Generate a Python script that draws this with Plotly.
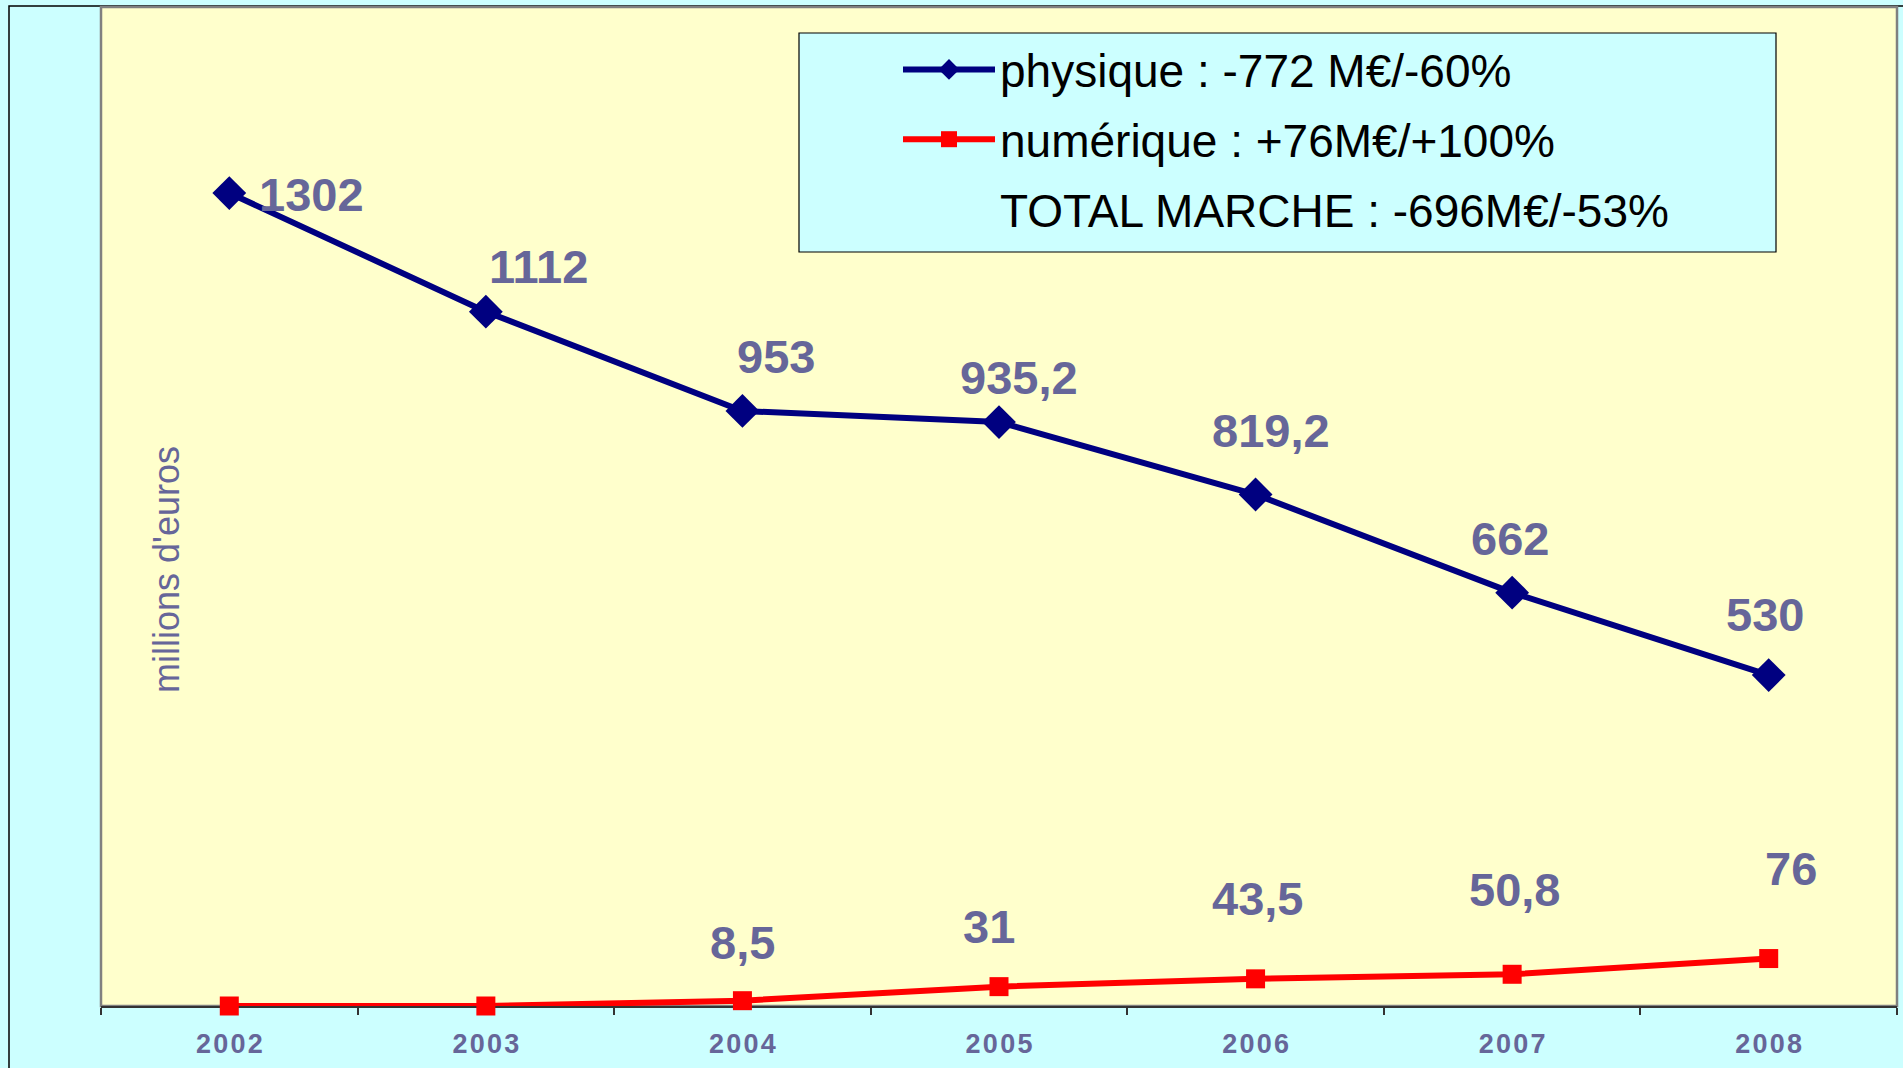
import plotly.graph_objects as go

# ---------------- data ----------------
years = ["2002", "2003", "2004", "2005", "2006", "2007", "2008"]
tick_labels = ["2\u200a0\u200a0\u200a2", "2\u200a0\u200a0\u200a3", "2\u200a0\u200a0\u200a4",
               "2\u200a0\u200a0\u200a5", "2\u200a0\u200a0\u200a6", "2\u200a0\u200a0\u200a7",
               "2\u200a0\u200a0\u200a8"]
physique = [1302, 1112, 953, 935.2, 819.2, 662, 530]
numerique = [0, 0, 8.5, 31, 43.5, 50.8, 76]
name_physique = "physique : -772 M€/-60%"
name_numerique = "numérique : +76M€/+100%"
name_total = "TOTAL MARCHE : -696M€/-53%"
y_title = "millions d'euros"

# label offsets (screen px) - style only
phys_dx = [82, 53, 34, 20, 15, -2, -4]
phys_dy = [-1, 45, 54, 45, 64, 54, 61]
num_dx = [0, 0, 0, -10, 2, 2, 22]
num_dy = [0, 0, 58, 60, 80, 85, 90]

# ---------------- style ----------------
NAVY = "#000080"
RED = "#FF0000"
LABEL = "#666699"
SANS = "Liberation Sans, Arial, sans-serif"

W, H = 1903, 1068
ML, MR, MT, MB = 101, 6, 7, 62
PW, PH = W - ML - MR, H - MT - MB


def px_x(p):
    return (p - ML) / PW


def px_y(p):
    return (H - MB - p) / PH


def fmt(v):
    return str(int(v)) if float(v).is_integer() else str(v).replace(".", ",")


fig = go.Figure()
fig.add_trace(go.Scatter(
    x=years, y=physique, name=name_physique, mode="lines+markers",
    legendgroup="a",
    line=dict(color=NAVY, width=6),
    marker=dict(symbol="diamond", size=26, color=NAVY),
    cliponaxis=False,
))
fig.add_trace(go.Scatter(
    x=years, y=numerique, name=name_numerique, mode="lines+markers",
    legendgroup="b",
    line=dict(color=RED, width=6),
    marker=dict(symbol="square", size=19, color=RED),
    cliponaxis=False,
))
fig.add_trace(go.Scatter(
    x=years, y=[None] * len(years), name=name_total, mode="lines",
    legendgroup="c",
    line=dict(color="rgba(0,0,0,0)", width=0), hoverinfo="skip",
))

label_font = dict(family=SANS, size=47, color=LABEL, weight="bold")
annotations = []
for i, v in enumerate(physique):
    annotations.append(dict(x=i, y=v, text=fmt(v), showarrow=False,
                            xanchor="center", yanchor="middle",
                            xshift=phys_dx[i], yshift=phys_dy[i], font=label_font))
for i, v in enumerate(numerique):
    if v > 0:
        annotations.append(dict(x=i, y=v, text=fmt(v), showarrow=False,
                                xanchor="center", yanchor="middle",
                                xshift=num_dx[i], yshift=num_dy[i], font=label_font))
annotations.append(dict(xref="paper", yref="paper", x=px_x(166), y=px_y(570),
                        xanchor="center", yanchor="middle",
                        text=y_title, textangle=-90, showarrow=False,
                        font=dict(family=SANS, size=36, color=LABEL)))

shapes = [
    # outer chart frame
    dict(type="rect", xref="paper", yref="paper", x0=px_x(9), x1=px_x(1960),
         y0=px_y(1120), y1=px_y(6), line=dict(color="black", width=1.5), layer="below"),
    # plot area frame
    dict(type="rect", xref="paper", yref="paper", x0=0, x1=1, y0=0, y1=1,
         line=dict(color="#808080", width=2.5), layer="below"),
    # legend box
    dict(type="rect", xref="paper", yref="paper", x0=px_x(799), x1=px_x(1776),
         y0=px_y(252), y1=px_y(33), line=dict(color="black", width=1.2),
         fillcolor="#CCFFFF", layer="above"),
]

fig.update_layout(
    width=W, height=H,
    margin=dict(l=ML, r=MR, t=MT, b=MB),
    paper_bgcolor="#CCFFFF",
    plot_bgcolor="#FFFFCC",
    showlegend=True,
    legend=dict(
        x=px_x(898), y=px_y(33), xanchor="left", yanchor="top",
        bgcolor="rgba(0,0,0,0)", borderwidth=0,
        font=dict(family=SANS, size=46, color="black"),
        itemwidth=92, tracegroupgap=7, traceorder="grouped",
    ),
    annotations=annotations,
    shapes=shapes,
    xaxis=dict(
        type="category", categoryorder="array", categoryarray=years,
        range=[-0.5, len(years) - 0.5], autorange=False,
        tickvals=years, ticktext=tick_labels,
        tickson="boundaries", ticks="outside", ticklen=7, tickwidth=1.5,
        tickcolor="#333333", showline=True, linecolor="#333333", linewidth=2,
        showgrid=False, zeroline=False, layer="below traces",
        ticklabelstandoff=13,
        tickfont=dict(family=SANS, size=27, color=LABEL, weight="bold"),
    ),
    yaxis=dict(
        range=[0, 1600], autorange=False, showticklabels=False, showgrid=False,
        zeroline=False, showline=False, ticks="",
    ),
)

fig.write_html("out.html", config={"displayModeBar": False},
               post_script="document.body.style.margin='0';document.body.style.overflow='hidden';")
